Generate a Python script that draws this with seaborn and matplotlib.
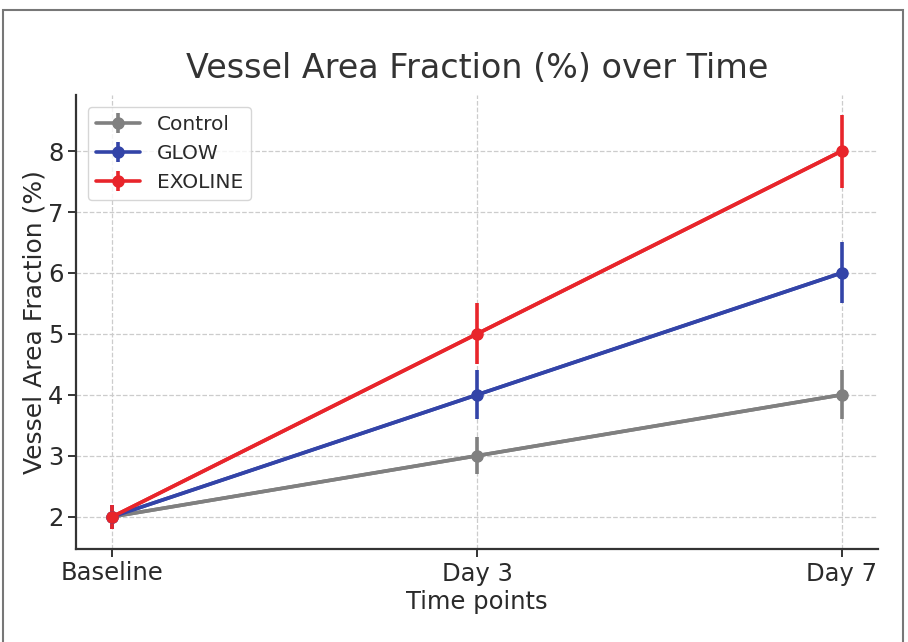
import matplotlib
matplotlib.use("Agg")
import matplotlib.pyplot as plt
import seaborn as sns
import pandas as pd
import numpy as np
from matplotlib.patches import Rectangle

time_points = ["Baseline", "Day 3", "Day 7"]
groups = ["Control", "GLOW", "EXOLINE"]
control_mean = [2.0, 3.0, 4.0]
control_err = [0.2, 0.3, 0.4]
glow_mean = [2.0, 4.0, 6.0]
glow_err = [0.2, 0.4, 0.5]
exoline_mean = [2.0, 5.0, 8.0]
exoline_err = [0.2, 0.5, 0.6]
colors = ["#808080", "#3344a8", "#e8252b"]

means = [control_mean, glow_mean, exoline_mean]
errs = [control_err, glow_err, exoline_err]

rows = []
for g, m, e in zip(groups, means, errs):
    for i, (t, mv, ev) in enumerate(zip(time_points, m, e)):
        rows.append({"group": g, "time": t, "x": i, "mean": mv, "err": ev})
df = pd.DataFrame(rows)

sns.set_theme(style="white")
plt.rcParams['font.family'] = ['DejaVu Sans']

fig = plt.figure(figsize=(9.08, 6.42), dpi=100)
ax = fig.add_axes([76/908, 1-549/642, (878-76)/908, (549-95)/642])

palette = dict(zip(groups, colors))
sns.lineplot(data=df, x="x", y="mean", hue="group", palette=palette,
             hue_order=groups, marker="o", markersize=8, markeredgewidth=0,
             linewidth=2.6, legend=False, ax=ax, zorder=3)
handles = []
for g in groups:
    sub = df[df["group"] == g]
    h = ax.errorbar(sub["x"], sub["mean"], yerr=sub["err"], fmt="-o",
                    color=palette[g], linewidth=2.6, markersize=8,
                    elinewidth=2.6, capsize=0, label=g, zorder=3)
    handles.append(h)

ax.set_xticks(range(len(time_points)))
ax.set_xticklabels(time_points)
ax.set_xlim(-0.1, 2.1)
ax.set_ylim(1.47, 8.92)
ax.set_yticks([2, 3, 4, 5, 6, 7, 8])
ax.grid(True, linestyle="--", color="#cccccc", linewidth=0.9)
ax.set_axisbelow(True)
for s in ["top", "right"]:
    ax.spines[s].set_visible(False)
for s in ["left", "bottom"]:
    ax.spines[s].set_color("#333333")
    ax.spines[s].set_linewidth(1.6)
ax.tick_params(axis="both", which="both", direction="out", length=6, width=1.4,
               color="#333333", labelsize=17.5, labelcolor="#2a2a2a",
               bottom=True, left=True, pad=3)
ax.set_xlabel("Time points", fontsize=17.5, color="#2a2a2a", labelpad=3)
ax.set_ylabel("Vessel Area Fraction (%)", fontsize=18, color="#2a2a2a", labelpad=1)
ax.set_title("Vessel Area Fraction (%) over Time", fontsize=24, color="#333333", pad=12)

leg = ax.legend(handles=handles, labels=groups, loc="upper left", fontsize=14.5,
                frameon=True, borderaxespad=0.6, handlelength=2.2)
leg.get_frame().set_edgecolor("#cccccc")
for t in leg.get_texts():
    t.set_color("#2a2a2a")

fig.patches.append(Rectangle((3/908, -0.02), 900/908, 1.02 - 10/642,
                             transform=fig.transFigure, fill=False,
                             edgecolor="#777777", linewidth=1.5))

fig.savefig("out.png", dpi=100)
